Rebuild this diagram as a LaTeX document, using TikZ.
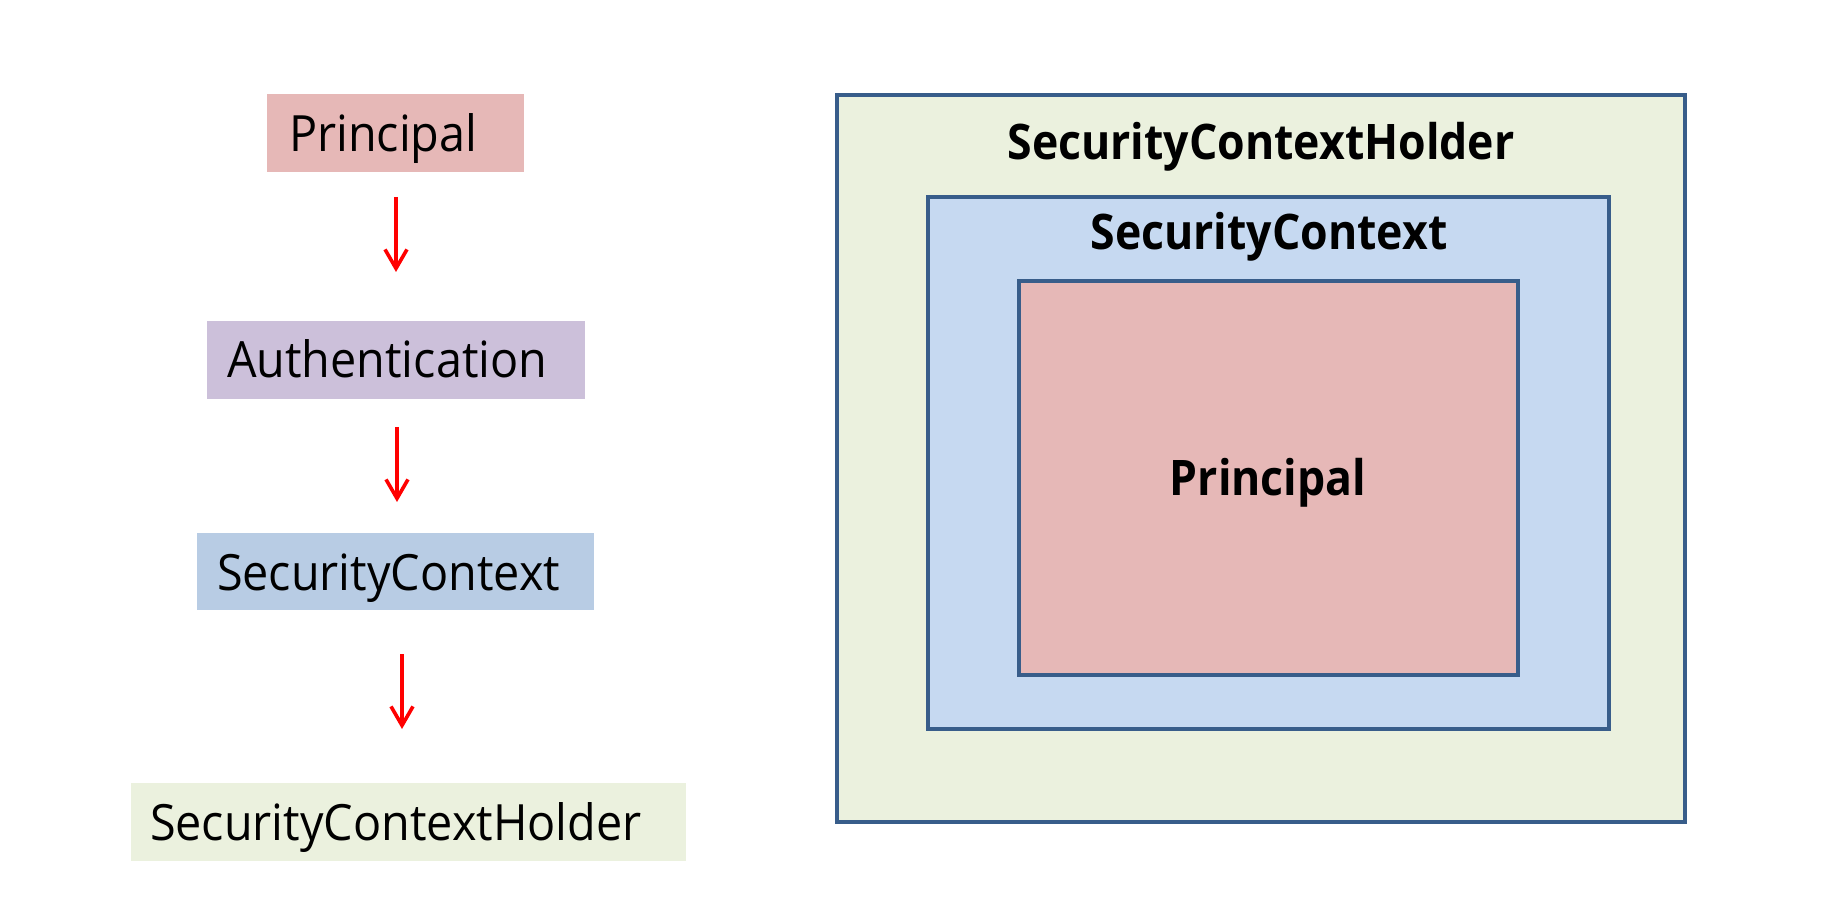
\documentclass[tikz,border=0pt]{standalone}
\usepackage{fontspec}
\setmainfont{Open Sans}
\newfontfamily\regfont[FakeStretch=0.935]{Open Sans}
\newfontfamily\boldfont[FakeStretch=0.91]{Open Sans Bold}
\usetikzlibrary{arrows.meta}
\definecolor{cprin}{RGB}{230,184,183}
\definecolor{cauth}{RGB}{204,192,218}
\definecolor{csc}{RGB}{184,204,228}
\definecolor{csch}{RGB}{235,241,222}
\definecolor{cscin}{RGB}{198,217,241}
\definecolor{cbord}{RGB}{56,93,138}
\begin{document}
\begin{tikzpicture}[x=0.5pt,y=-0.5pt,
  flatbox/.style={rectangle,inner sep=0pt,outer sep=0pt,draw=none},
  nestbox/.style={rectangle,inner sep=0pt,outer sep=0pt,draw=cbord,line width=2pt},
  lbl/.style={inner sep=0pt,outer sep=0pt,anchor=base west,font=\regfont\fontsize{25pt}{30pt}\selectfont},
  blbl/.style={inner sep=0pt,outer sep=0pt,anchor=base,font=\boldfont\fontsize{24.5pt}{30pt}\selectfont},
  flow/.style={draw=red,line width=1.8pt,-{Straight Barb[length=9.5pt,width=11pt]}}
]
\useasboundingbox (0,0) rectangle (1829,897);
% left column boxes
\path[fill=cprin] (267,94) rectangle (524,172) node[flatbox,pos=0.5] (b1) {};
\path[fill=cauth] (207,321) rectangle (585,399) node[flatbox,pos=0.5] (b2) {};
\path[fill=csc] (197,533) rectangle (594,610) node[flatbox,pos=0.5] (b3) {};
\path[fill=csch] (131,783) rectangle (686,861) node[flatbox,pos=0.5] (b4) {};
\coordinate (b1s) at (396,172);
\coordinate (b2n) at (396,321);
\coordinate (b2s) at (397,399);
\coordinate (b3n) at (397,533);
\coordinate (b3s) at (402,610);
\coordinate (b4n) at (402,783);
\node[lbl] (t1) at (289,152) {Principal};
\node[lbl] (t2) at (227,378) {Authentication};
\node[lbl] (t3) at (217,590) {SecurityContext};
\node[lbl] (t4) at (150,840) {SecurityContextHolder};
\draw[flow,shorten <=12.5pt,shorten >=24.5pt] (b1s) -- (b2n);
\draw[flow,shorten <=14pt,shorten >=15.5pt] (b2s) -- (b3n);
\draw[flow,shorten <=22pt,shorten >=27pt] (b3s) -- (b4n);
% nested boxes
\draw[nestbox,fill=csch] (837,95) rectangle (1685,822) coordinate[pos=0.5] (o);
\draw[nestbox,fill=cscin] (928,197) rectangle (1609,729) coordinate[pos=0.5] (m);
\draw[nestbox,fill=cprin] (1019,281) rectangle (1518,675) coordinate[pos=0.5] (i);
\node[blbl] (n1) at (1261,160) {SecurityContextHolder};
\node[blbl] (n2) at (1269,250) {SecurityContext};
\node[blbl] (n3) at (1268,495) {Principal};
\end{tikzpicture}
\end{document}
